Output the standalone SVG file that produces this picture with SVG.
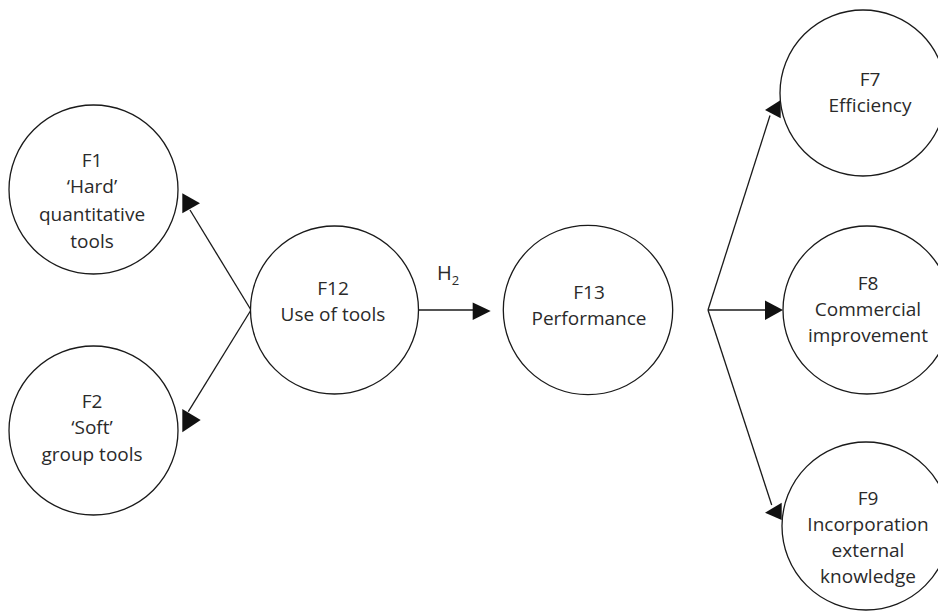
<svg xmlns="http://www.w3.org/2000/svg" width="938" height="611" viewBox="0 0 938 611">
<style>
  .node { fill: #ffffff; stroke: #1a1a1a; stroke-width: 1.3; }
  .lbl { font-family: "Open Sans", "Liberation Sans", sans-serif; font-size: 19px; fill: #2a2a2a; text-anchor: middle; }
  .edge { stroke: #1a1a1a; stroke-width: 1.3; fill: none; }
  .head { fill: #111111; stroke: none; }
  .h2 { font-family: "Open Sans", "Liberation Sans", sans-serif; font-size: 20px; fill: #2a2a2a; }
  .sub { font-size: 13px; }
</style>
<rect width="938" height="611" fill="#ffffff"/>
<g id="connectors">
  <line class="edge" x1="251" y1="310" x2="190" y2="210"/>
  <polygon class="head" points="182.3,193.3 200,203.3 182.3,213.3"/>
  <line class="edge" x1="251" y1="310" x2="188.3" y2="411.7"/>
  <polygon class="head" points="182.3,409 200.7,420 182.3,432.3"/>
  <line class="edge" x1="418" y1="310" x2="474" y2="310"/>
  <polygon class="head" points="472.7,302.5 490.7,311 472.7,320"/>
  <text class="h2" x="437" y="280">H<tspan class="sub" dy="5">2</tspan></text>
  <line class="edge" x1="708" y1="310" x2="770" y2="115.5"/>
  <polygon class="head" points="765,110 780.7,100 780.7,118.3"/>
  <line class="edge" x1="708" y1="310" x2="766" y2="310"/>
  <polygon class="head" points="765,300.5 783,310 765,320"/>
  <line class="edge" x1="708" y1="310" x2="771.7" y2="505"/>
  <polygon class="head" points="781.7,502.7 765,512.7 781.7,520"/>
</g>
<g id="F1">
  <circle class="node" cx="93.5" cy="189.5" r="84.5"/>
  <text class="lbl" x="92" y="167">F1</text>
  <text class="lbl" x="92" y="193">‘Hard’</text>
  <text class="lbl" x="92" y="221">quantitative</text>
  <text class="lbl" x="92" y="248">tools</text>
</g>
<g id="F2">
  <circle class="node" cx="93.5" cy="430.5" r="84.5"/>
  <text class="lbl" x="92" y="408">F2</text>
  <text class="lbl" x="92" y="434">‘Soft’</text>
  <text class="lbl" x="92" y="461">group tools</text>
</g>
<g id="F12">
  <circle class="node" cx="334.5" cy="310" r="84"/>
  <text class="lbl" x="333" y="295">F12</text>
  <text class="lbl" x="333" y="321">Use of tools</text>
</g>
<g id="F13">
  <circle class="node" cx="588" cy="310" r="84.7"/>
  <text class="lbl" x="589" y="299">F13</text>
  <text class="lbl" x="589" y="325">Performance</text>
</g>
<g id="F7">
  <circle class="node" cx="863" cy="93" r="83"/>
  <text class="lbl" x="870" y="86">F7</text>
  <text class="lbl" x="870" y="112">Efficiency</text>
</g>
<g id="F8">
  <circle class="node" cx="867" cy="310" r="84"/>
  <text class="lbl" x="868" y="290">F8</text>
  <text class="lbl" x="868" y="316">Commercial</text>
  <text class="lbl" x="868" y="342">improvement</text>
</g>
<g id="F9">
  <circle class="node" cx="866" cy="526" r="84"/>
  <text class="lbl" x="868" y="505">F9</text>
  <text class="lbl" x="868" y="531">Incorporation</text>
  <text class="lbl" x="868" y="557">external</text>
  <text class="lbl" x="868" y="583">knowledge</text>
</g>
</svg>
